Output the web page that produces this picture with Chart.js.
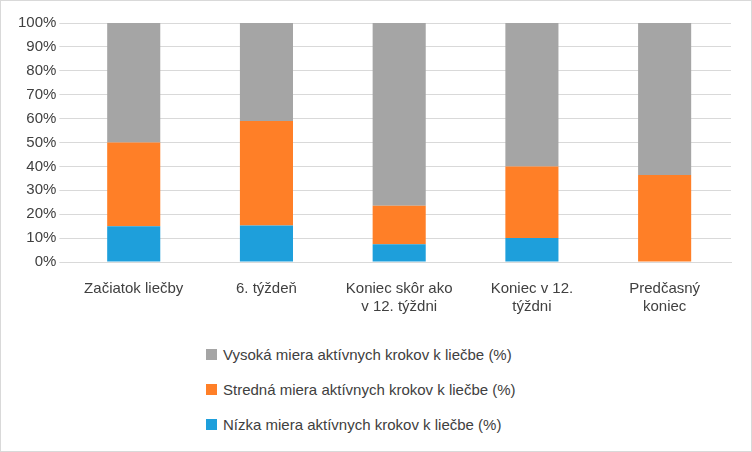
<!DOCTYPE html><html><head><meta charset="utf-8">
<script src="https://cdn.jsdelivr.net/npm/chart.js@4"></script>
<style>
body{margin:0;background:#fff;font-family:"Liberation Sans",sans-serif}
#wrap{position:relative;width:750px;height:450px;border:1px solid #D9D9D9}
#c{position:absolute;left:0;top:0}
#leg{position:absolute;left:205px;top:336px;font-size:15px;color:#404040}
.it{height:35px;display:flex;align-items:center}
.bx{width:11px;height:11px;margin-right:6px}
</style></head><body>
<div id="wrap"><canvas id="c" width="750" height="325"></canvas><div id="leg"></div></div>
<script>
const categories=[["Začiatok liečby"],["6. týždeň"],["Koniec skôr ako","v 12. týždni"],["Koniec v 12.","týždni"],["Predčasný","koniec"]];
const low=[15,15.3,7.4,10,0];
const mid=[35,43.7,16.1,30,36.4];
const high=[50,41,76.5,60,63.6];
const names=["Nízka miera aktívnych krokov k liečbe (%)","Stredná miera aktívnych krokov k liečbe (%)","Vysoká miera aktívnych krokov k liečbe (%)"];
const colors=["#1E9FDB","#FF7F27","#A5A5A5"];
const ds=[low,mid,high].map((d,i)=>({label:names[i],data:d,backgroundColor:colors[i],barPercentage:1,categoryPercentage:0.4}));
new Chart(document.getElementById('c'),{type:'bar',data:{labels:categories,datasets:ds},
options:{responsive:false,animation:false,layout:{padding:{top:22,right:20,left:14}},
plugins:{legend:{display:false},tooltip:{enabled:false}},
scales:{x:{stacked:true,grid:{display:false},border:{color:'#D9D9D9'},ticks:{color:'#404040',font:{family:'Liberation Sans',size:15},padding:10}},
y:{stacked:true,min:0,max:100,ticks:{stepSize:10,color:'#404040',font:{family:'Liberation Sans',size:15},callback:v=>v+'%'},grid:{color:'#D9D9D9'},border:{display:false}}}}});
const leg=document.getElementById('leg');
[2,1,0].forEach(i=>{leg.innerHTML+=`<div class="it"><div class="bx" style="background:${colors[i]}"></div>${names[i]}</div>`});
</script></body></html>
